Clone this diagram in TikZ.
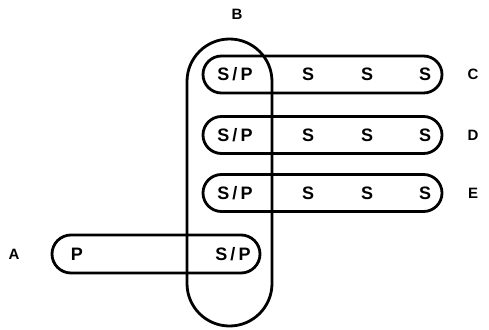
\documentclass[tikz,border=0pt]{standalone}
\usepackage{fontspec}
\newfontfamily\setfont[LetterSpace=18]{Liberation Sans Bold}
\usepackage{tikz}
\usetikzlibrary{positioning}
\tikzstyle{pill} = [rectangle, draw=black, line width=2.8pt, minimum height=37pt, rounded corners=18.5pt, inner sep=0pt]
\tikzstyle{elem} = [font=\setfont\fontsize{18}{18}\selectfont, inner sep=0pt, anchor=center]
\tikzstyle{setname} = [font=\setfont\fontsize{15}{15}\selectfont, inner sep=0pt]

\begin{document}
\begin{tikzpicture}[x=1pt, y=-1pt]
\useasboundingbox (0,0) rectangle (489,329);
% Set B (vertical)
\node[pill, minimum width=85pt, minimum height=287pt, rounded corners=42.5pt] (B) at (229.5,182.5) {};
% Sets C, D, E
\node[pill, minimum width=239pt] (C) at (322.5,74.5) {};
\node[pill, minimum width=239pt] (D) at (322.5,135) {};
\node[pill, minimum width=239pt] (E) at (322.5,193) {};
% Set A
\node[pill, minimum width=208pt, minimum height=38pt, rounded corners=19pt] (A) at (156,254) {};

% Elements
\node[elem] (c0) at (235,74.5) {S/P};
\node[elem] (c1) at (308,74.5) {S};
\node[elem] (c2) at (367,74.5) {S};
\node[elem] (c3) at (425,74.5) {S};
\node[elem] (d0) at (235,135) {S/P};
\node[elem] (d1) at (308,135) {S};
\node[elem] (d2) at (367,135) {S};
\node[elem] (d3) at (425,135) {S};
\node[elem] (e0) at (235,193) {S/P};
\node[elem] (e1) at (308,193) {S};
\node[elem] (e2) at (367,193) {S};
\node[elem] (e3) at (425,193) {S};
\node[elem] (a0) at (77,254) {P};
\node[elem] (a1) at (233,254) {S/P};

% Set names
\node[setname] (lB) at (237,14) {B};
\node[setname] (lC) at (473,74.5) {C};
\node[setname] (lD) at (473,135) {D};
\node[setname] (lE) at (473,193) {E};
\node[setname] (lA) at (14,254) {A};
\end{tikzpicture}
\end{document}
